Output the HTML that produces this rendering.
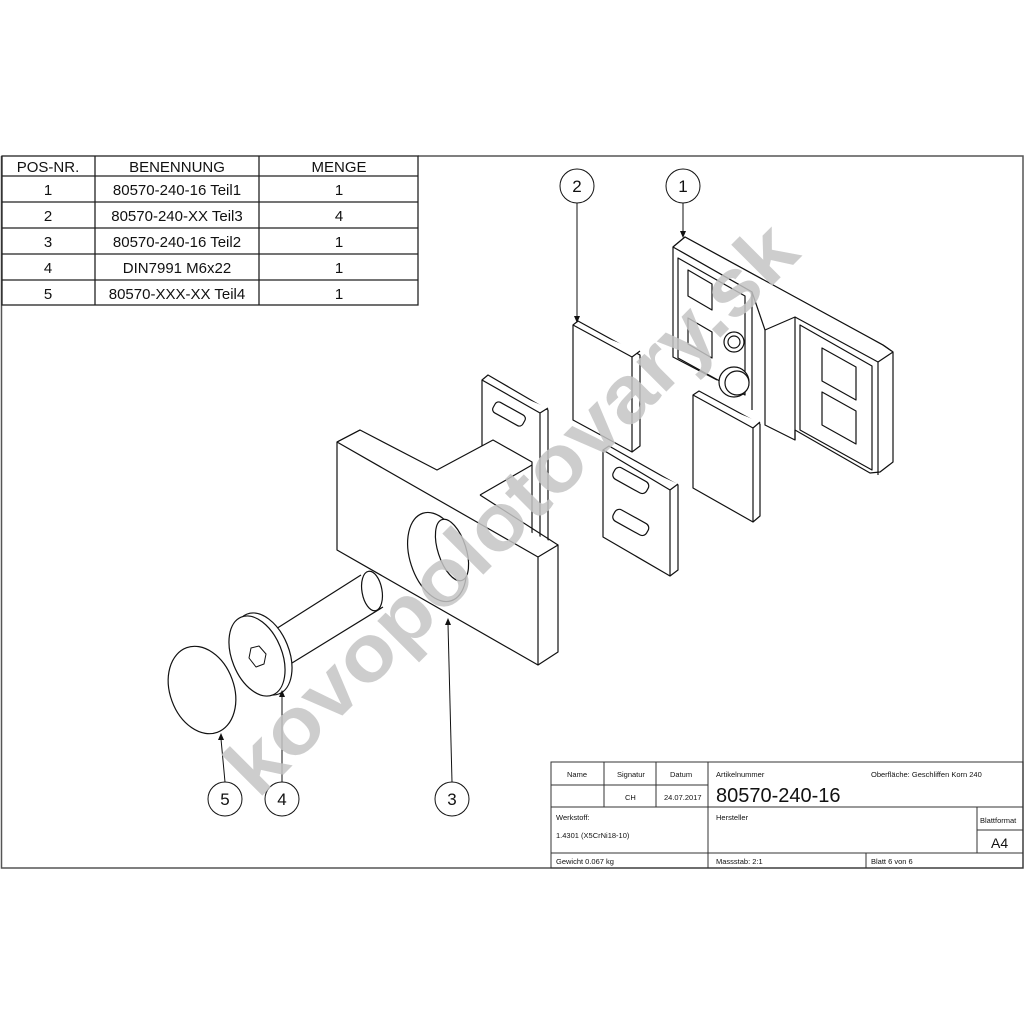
<!DOCTYPE html>
<html><head><meta charset="utf-8"><style>
html,body{margin:0;padding:0;background:#fff;}
svg{display:block;}
text{font-family:"Liberation Sans",sans-serif;fill:#111;}
</style></head><body>
<svg width="1024" height="1024" viewBox="0 0 1024 1024" xmlns="http://www.w3.org/2000/svg">
<rect width="1024" height="1024" fill="#fff"/>
<g stroke="#555" stroke-width="1.5" fill="none">
<polyline points="1.5,156 1.5,868 1023,868 1023,156 418,156"/>
</g>
<g stroke="#222" stroke-width="1.3" fill="none">
<rect x="2" y="156" width="416" height="149"/>
<line x1="95" y1="156" x2="95" y2="305"/><line x1="259" y1="156" x2="259" y2="305"/>
<line x1="2" y1="176" x2="418" y2="176"/><line x1="2" y1="202" x2="418" y2="202"/>
<line x1="2" y1="228" x2="418" y2="228"/><line x1="2" y1="254" x2="418" y2="254"/>
<line x1="2" y1="280" x2="418" y2="280"/>
</g>
<g font-size="15" text-anchor="middle">
<text x="48" y="172">POS-NR.</text><text x="177" y="172">BENENNUNG</text><text x="339" y="172">MENGE</text>
<text x="48" y="195">1</text><text x="177" y="195">80570-240-16 Teil1</text><text x="339" y="195">1</text>
<text x="48" y="221">2</text><text x="177" y="221">80570-240-XX Teil3</text><text x="339" y="221">4</text>
<text x="48" y="247">3</text><text x="177" y="247">80570-240-16 Teil2</text><text x="339" y="247">1</text>
<text x="48" y="273">4</text><text x="177" y="273">DIN7991 M6x22</text><text x="339" y="273">1</text>
<text x="48" y="299">5</text><text x="177" y="299">80570-XXX-XX Teil4</text><text x="339" y="299">1</text>
</g>
<g stroke="#333" stroke-width="1" fill="none">
<rect x="551" y="762" width="472" height="106"/>
<line x1="551" y1="785" x2="708" y2="785"/>
<line x1="604" y1="762" x2="604" y2="807"/><line x1="656" y1="762" x2="656" y2="807"/>
<line x1="708" y1="762" x2="708" y2="868"/>
<line x1="551" y1="807" x2="1023" y2="807"/>
<line x1="977" y1="807" x2="977" y2="853"/><line x1="977" y1="830" x2="1023" y2="830"/>
<line x1="551" y1="853" x2="1023" y2="853"/>
<line x1="866" y1="853" x2="866" y2="868"/>
</g>
<g font-size="7.5">
<text x="567" y="777">Name</text><text x="617" y="777">Signatur</text><text x="670" y="777">Datum</text>
<text x="625" y="800">CH</text><text x="664" y="800">24.07.2017</text>
<text x="716" y="777">Artikelnummer</text>
<text x="871" y="777">Oberfläche:  Geschliffen Korn 240</text>
<text x="556" y="820">Werkstoff:</text><text x="556" y="838">1.4301 (X5CrNi18-10)</text>
<text x="716" y="820">Hersteller</text><text x="980" y="823">Blattformat</text>
<text x="556" y="864">Gewicht 0.067 kg</text><text x="716" y="864">Massstab: 2:1</text><text x="871" y="864">Blatt 6 von 6</text>
</g>
<text x="716" y="802" font-size="20">80570-240-16</text>
<text x="991" y="848" font-size="14">A4</text>

<g stroke="#111" stroke-width="1.2" fill="#fff" stroke-linejoin="round">
<polygon points="685,237 883,345 893,352 893,462 880,472 870,473 795,430 795,440 765,425 765,330 752,292 673,247"/>
<path d="M673,247 L685,237 L883,345 M883,345 L893,352"/>
<path d="M673,247 L752,292 L752,410 M673,247 L673,357 L717,380"/>
<path d="M678,258 L745,296 L745,395 L678,358 Z"/>
<path d="M688,270 L712,284 L712,310 L688,296 Z M688,318 L712,332 L712,358 L688,344 Z"/>
<path d="M765,330 L795,317 L878,362 L893,352 M795,317 L795,440 M878,362 L878,475"/>
<path d="M800,325 L872,366 L872,470 L800,430 Z"/>
<path d="M822,348 L856,367 L856,400 L822,381 Z M822,392 L856,411 L856,444 L822,425 Z"/>
<circle cx="734" cy="342" r="10"/><circle cx="734" cy="342" r="6"/>
<circle cx="734" cy="382" r="15"/><circle cx="737" cy="383" r="12"/>
<path d="M573,325 L578,321 L640,355 L640,446 L632,452 L573,420 Z"/>
<path d="M573,325 L632,357 L640,351 M632,357 L632,452"/>
<path d="M693,395 L699,391 L760,424 L760,516 L753,522 L693,488 Z"/>
<path d="M693,395 L753,428 L760,422 M753,428 L753,522"/>
<path d="M603,450 L609,446 L678,485 L678,570 L670,576 L603,537 Z"/>
<path d="M603,450 L670,490 L678,484 M670,490 L670,576"/>
<rect x="612" y="474" width="38" height="13" rx="5" transform="rotate(29 631 480)"/>
<rect x="612" y="516" width="38" height="13" rx="5" transform="rotate(29 631 522)"/>
<path d="M482,380 L488,375 L548,410 L548,555 L540,560 L482,527 Z"/>
<path d="M482,380 L540,413 L548,408 M540,413 L540,560"/>
<rect x="492" y="408" width="34" height="12" rx="4" transform="rotate(29 509 414)"/>
<polygon points="337,442 360,430 437,470 493,440 532,462 532,545 558,545 558,652 538,665 337,550"/>
<path d="M337,442 L360,430 M337,442 L538,557 L558,545 M538,557 L538,665"/>
<path d="M480,495 L532,465 M480,495 L558,545"/>
<ellipse cx="437" cy="557" rx="27" ry="46" transform="rotate(-18 437 557)"/>
<ellipse cx="452" cy="550" rx="14" ry="32" transform="rotate(-18 452 550)"/>
<!-- screw -->
<path d="M268,634 L361,575 M292,663 L383,607"/>
<ellipse cx="372" cy="591" rx="10" ry="20" transform="rotate(-10 372 591)"/>
<ellipse cx="263" cy="654" rx="26" ry="43" transform="rotate(-22 263 654)"/>
<ellipse cx="257" cy="656" rx="25" ry="42" transform="rotate(-22 257 656)"/>
<polygon points="251,648 259,646 266,654 264,664 256,667 249,658" stroke-width="1"/>
<ellipse cx="202" cy="690" rx="32" ry="45" transform="rotate(-20 202 690)"/>
</g>

<g stroke="#111" stroke-width="1" fill="#fff">
<circle cx="577" cy="186" r="17"/><circle cx="683" cy="186" r="17"/>
<circle cx="225" cy="799" r="17"/><circle cx="282" cy="799" r="17"/><circle cx="452" cy="799" r="17"/>
<line x1="577" y1="203" x2="577" y2="318"/><line x1="683" y1="203" x2="683" y2="234"/>
<line x1="225" y1="782" x2="221" y2="739"/><line x1="282" y1="782" x2="282" y2="696"/>
<line x1="452" y1="782" x2="448" y2="624"/>
</g>
<g fill="#111">
<polygon points="574,316 580,316 577,323"/><polygon points="680,231 686,231 683,238"/>
<polygon points="218,740 224,740 221,733"/><polygon points="279,697 285,697 282,690"/>
<polygon points="445,625 451,625 448,618"/>
</g>
<g font-size="17" text-anchor="middle">
<text x="577" y="192">2</text><text x="683" y="192">1</text>
<text x="225" y="805">5</text><text x="282" y="805">4</text><text x="452" y="805">3</text>
</g>

<text x="0" y="0" font-size="80" font-weight="bold" style="fill:#c4c4c4" fill-opacity="0.85" textLength="770" lengthAdjust="spacingAndGlyphs" transform="translate(258,800) rotate(-45)">kovopolotovary.sk</text>
</svg>
</body></html>
